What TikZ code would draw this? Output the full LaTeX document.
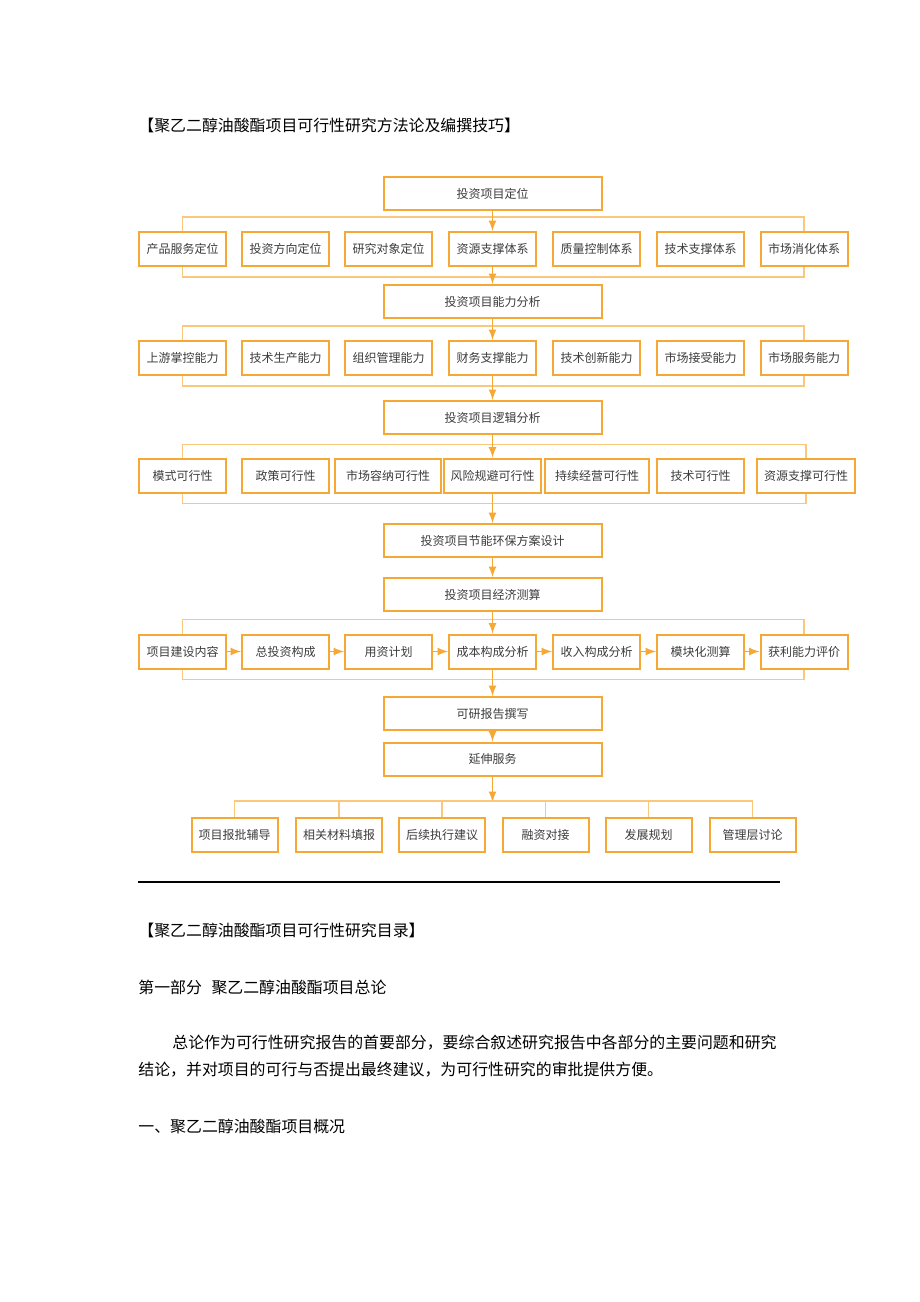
\documentclass[tikz,border=0pt]{standalone}
\usepackage{fontspec}
\setmainfont{Noto Sans CJK SC}
\usepackage{tikz}
\usetikzlibrary{arrows}

\definecolor{boxorange}{RGB}{246,168,52}
\definecolor{lineorange}{RGB}{250,200,125}
\definecolor{boxtext}{RGB}{60,60,60}

\tikzset{
  mainbox/.style={draw=boxorange, line width=1pt, fill=white, minimum width=109pt, minimum height=16.5pt, inner sep=0pt, text=boxtext, font=\fontsize{6}{7}\selectfont},
  subbox/.style={draw=boxorange, line width=1pt, fill=white, minimum height=17pt, inner sep=0pt, text=boxtext, font=\fontsize{6}{7}\selectfont},
  link/.style={draw=lineorange, line width=0.6pt},
  arr/.style={->, >=latex, draw=boxorange, line width=0.8pt},
  plain/.style={anchor=west, inner sep=0pt, font=\fontsize{7.95}{9}\selectfont}
}

\begin{document}
\begin{tikzpicture}[x=0.5pt, y=-0.5pt]
\useasboundingbox (0,0) rectangle (920,1302);

\node[plain] (title) at (138,125) {【聚乙二醇油酸酯项目可行性研究方法论及编撰技巧】};

% main column
\node[mainbox] (m1) at (492.5,193.5) {投资项目定位};
\node[mainbox] (m2) at (492.5,301.5) {投资项目能力分析};
\node[mainbox] (m3) at (492.5,417.5) {投资项目逻辑分析};
\node[mainbox] (m4) at (492.5,540.5) {投资项目节能环保方案设计};
\node[mainbox] (m5) at (492.5,594.5) {投资项目经济测算};
\node[mainbox] (m6) at (492.5,713.5) {可研报告撰写};
\node[mainbox] (m7) at (492.5,759) {延伸服务};

% row 1
\foreach \i/\x/\txt in {1/182.5/产品服务定位, 2/285.5/投资方向定位, 3/388.5/研究对象定位, 4/492.5/资源支撑体系, 5/596.5/质量控制体系, 6/700.5/技术支撑体系, 7/804/市场消化体系} {
  \node[subbox, minimum width=43.5pt] (a\i) at (\x,249) {\txt};
}
% row 2
\foreach \i/\x/\txt in {1/182.5/上游掌控能力, 2/285.5/技术生产能力, 3/388.5/组织管理能力, 4/492.5/财务支撑能力, 5/596.5/技术创新能力, 6/700.5/市场接受能力, 7/804/市场服务能力} {
  \node[subbox, minimum width=43.5pt] (b\i) at (\x,358) {\txt};
}
% row 3
\foreach \i/\x/\w/\txt in {1/182.5/43.5pt/模式可行性, 2/285.5/43.5pt/政策可行性, 3/388/53pt/市场容纳可行性, 4/492.5/48.5pt/风险规避可行性, 5/597/52pt/持续经营可行性, 6/700.5/43.5pt/技术可行性, 7/806/49pt/资源支撑可行性} {
  \node[subbox, minimum width=\w] (c\i) at (\x,475.5) {\txt};
}
% row 4
\foreach \i/\x/\txt in {1/182.5/项目建设内容, 2/285.5/总投资构成, 3/388.5/用资计划, 4/492.5/成本构成分析, 5/596.5/收入构成分析, 6/700.5/模块化测算, 7/804/获利能力评价} {
  \node[subbox, minimum width=43.5pt] (d\i) at (\x,651.5) {\txt};
}
% row 5
\foreach \i/\x/\txt in {1/234.5/项目报批辅导, 2/339/相关材料填报, 3/442/后续执行建议, 4/545.5/融资对接, 5/648.5/发展规划, 6/752.5/管理层讨论} {
  \node[subbox, minimum width=43pt] (e\i) at (\x,835) {\txt};
}

% brackets
\foreach \r in {a,b,d} {
  \draw[link] (\r1.north) -- ++(0,-14) -| (\r7.north);
  \draw[link] (\r1.south) -- ++(0,10) -| (\r7.south);
}
\draw[link] (c1.north) -- ++(0,-13) -| (c7.north);
\draw[link] (c1.south) -- ++(0,10) -| (c7.south);

% vertical flow
\draw[arr] (m1.south) -- (a4.north);
\draw[arr] (a4.south) -- (m2.north);
\draw[arr] (m2.south) -- (b4.north);
\draw[arr] (b4.south) -- (m3.north);
\draw[arr] (m3.south) -- (c4.north);
\draw[arr] (c4.south) -- (m4.north);
\draw[arr] (m4.south) -- (m5.north);
\draw[arr] (m5.south) -- (d4.north);
\draw[arr] (d4.south) -- (m6.north);
\draw[arr] (m6.south) -- (m7.north);

% row 4 chain
\foreach \i/\j in {1/2, 2/3, 3/4, 4/5, 5/6, 6/7} {
  \draw[arr] (d\i.east) -- (d\j.west);
}

% services
\coordinate (bus) at (492.5,802);
\draw[arr] (m7.south) -- (bus);
\draw[link] (e1.north) -- ++(0,-16) -| (e6.north);
\foreach \i in {2,...,5} {
  \draw[link] (e\i.north) -- (e\i.north |- bus);
}

% text below
\draw[black, line width=0.6pt] (138,882) -- (780,882);
\node[plain] (toc) at (138,930) {【聚乙二醇油酸酯项目可行性研究目录】};
\node[plain] (part) at (138,987) {第一部分\hspace{0.6em}聚乙二醇油酸酯项目总论};
\node[plain] (para1) at (172,1043) {总论作为可行性研究报告的首要部分，要综合叙述研究报告中各部分的主要问题和研究};
\node[plain] (para2) at (138,1070) {结论，并对项目的可行与否提出最终建议，为可行性研究的审批提供方便。};
\node[plain] (sec) at (138,1126) {一、聚乙二醇油酸酯项目概况};
\end{tikzpicture}
\end{document}
